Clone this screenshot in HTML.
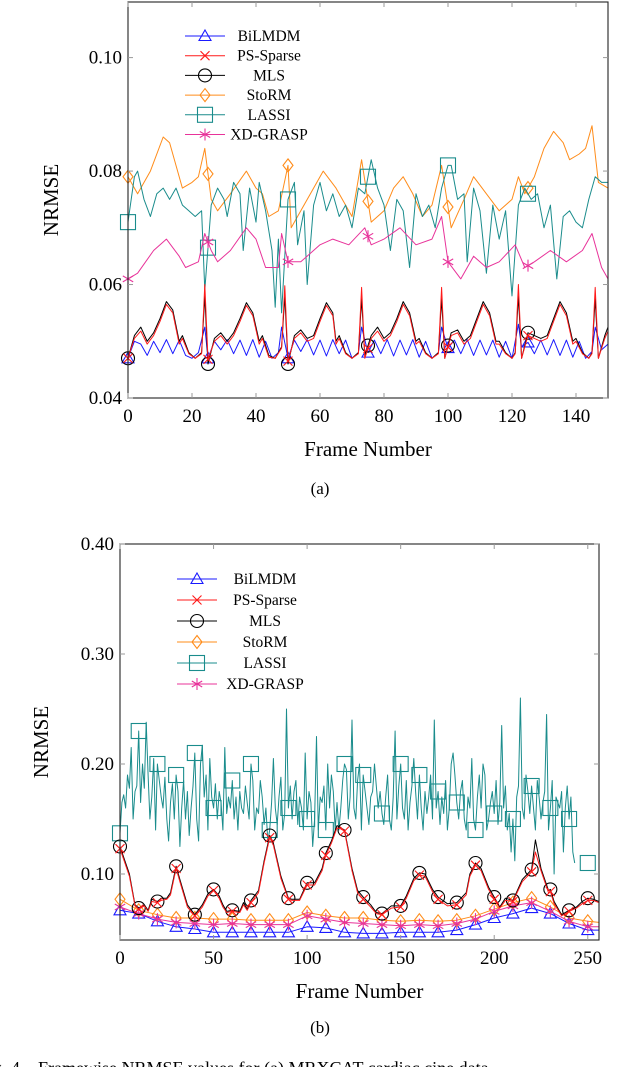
<!DOCTYPE html>
<html><head><meta charset="utf-8"><style>
html,body{margin:0;padding:0;background:#fff}
svg{display:block;font-family:"Liberation Serif",serif}
</style></head><body>
<svg id="fig" width="640" height="1067" viewBox="0 0 640 1067" xmlns="http://www.w3.org/2000/svg">
<g id="chartA"></g>
<g id="chartB"></g>
<text x="320" y="494" font-size="17" text-anchor="middle">(a)</text>
<text x="320" y="1033" font-size="17" text-anchor="middle">(b)</text>
<text x="-22" y="1074" font-size="18" xml:space="preserve">Fig. 4.   Framewise NRMSE values for (a) MRXCAT cardiac cine data</text>
</svg>
<script>
// ---------- Chart A data ----------
const aBilX=[0,2,4,6,8,10,12,14,16,18,20,22,24,25,27,29,31,33,35,37,39,41,43,45,47,48,50,52,54,56,58,60,62,64,66,68,70,72,73,75,77,79,81,83,85,87,89,91,93,95,97,98,100,102,104,106,108,110,112,114,116,118,120,122,123,125,127,129,131,133,135,137,139,141,143,145,146,148,150];
const aBilY=[.047,.0500,.0495,.0475,.0500,.0480,.0503,.0478,.0502,.0475,.0470,.0480,.0525,.0470,.0500,.0485,.0503,.0478,.0502,.0475,.0503,.0472,.0500,.0470,.0480,.0525,.0470,.0502,.0482,.0503,.0476,.0502,.0474,.0503,.0478,.0502,.0470,.0480,.0525,.0480,.0502,.0478,.0503,.0474,.0502,.0476,.0503,.0472,.0500,.0470,.0480,.0525,.0488,.0502,.0478,.0503,.0475,.0502,.0476,.0502,.0472,.0500,.0470,.0530,.0490,.0498,.0478,.0502,.0476,.0503,.0475,.0502,.0472,.0500,.0470,.0482,.0525,.0485,.0495];
const aMlsX=[0,2,4,6,8,10,12,14,16,17,19,21,23,24,25,27,29,31,33,35,37,39,41,42,44,46,48,49,50,52,54,56,58,60,62,64,65,66,68,70,72,73,74,76,78,80,82,84,86,88,90,91,93,95,97,98,99,101,103,105,107,109,111,113,115,116,118,120,121,122,123,125,127,129,131,133,135,137,139,140,142,144,145,146,147,149,150];
const aMlsY=[.047,.051,.0525,.050,.0515,.054,.057,.0555,.050,.051,.048,.047,.048,.058,.046,.0505,.0515,.050,.0515,.054,.0568,.055,.050,.051,.0475,.047,.049,.058,.046,.051,.052,.0505,.051,.054,.0568,.055,.050,.051,.048,.047,.048,.0575,.0475,.051,.0525,.0505,.0515,.054,.057,.055,.050,.0505,.048,.047,.048,.0575,.047,.0515,.052,.050,.051,.054,.057,.055,.050,.050,.048,.047,.048,.058,.047,.0515,.051,.0505,.051,.054,.057,.055,.050,.0505,.048,.047,.048,.0575,.047,.051,.0525];
const aPsY=[.047,.0505,.0518,.0495,.051,.0535,.0565,.055,.0495,.0505,.0478,.047,.0478,.0600,.0468,.050,.051,.0495,.051,.0535,.0563,.0545,.0495,.0505,.0472,.047,.0488,.0598,.0465,.0505,.0515,.050,.0505,.0535,.0563,.0545,.0495,.0505,.0478,.047,.0478,.0595,.047,.0505,.0518,.050,.051,.0535,.0565,.0545,.0495,.050,.0478,.047,.0478,.0595,.047,.051,.0515,.0495,.0505,.0535,.0565,.0545,.0495,.0495,.0478,.047,.0478,.0600,.047,.051,.0505,.050,.0505,.0535,.0565,.0545,.0495,.050,.0478,.047,.0478,.0595,.047,.0505,.0518];
const aStoX=[0,3,7,11,13,17,20,22,24,26,28,32,37,40,42,44,47,50,51,54,58,61,65,70,73,76,80,83,86,89,92,95,98,101,105,108,112,116,120,122,124,127,130,133,136,138,141,143,145,147,150];
const aStoY=[.079,.076,.080,.086,.085,.077,.078,.079,.084,.075,.073,.076,.080,.077,.076,.072,.073,.081,.070,.073,.077,.080,.077,.072,.082,.071,.073,.077,.079,.076,.072,.074,.081,.070,.075,.079,.076,.073,.075,.079,.076,.079,.084,.087,.085,.082,.083,.084,.088,.078,.077];
const aXdX=[0,3,8,12,16,18,22,24,26,28,32,37,40,43,47,48,50,54,60,64,69,74,76,80,85,90,95,98,100,104,108,112,116,121,124,127,132,137,142,145,148,150];
const aXdY=[.061,.062,.066,.068,.065,.063,.064,.069,.066,.064,.066,.070,.068,.063,.063,.069,.064,.064,.067,.068,.067,.070,.067,.068,.070,.067,.068,.072,.064,.061,.065,.063,.064,.067,.063,.064,.066,.064,.066,.069,.063,.061];
const aLasX=[0,2,3,5,7,9,11,13,15,17,19,21,23,24,26,28,30,31,33,35,36,38,40,41,43,45,46,47,48,50,52,53,55,56,58,60,62,64,66,68,70,72,74,75,76,78,80,82,84,86,88,90,92,94,96,98,100,101,103,105,106,108,110,112,114,116,118,120,122,124,126,128,130,132,134,136,138,140,142,144,146,148,150];
const aLasY=[.071,.079,.080,.075,.072,.076,.077,.075,.077,.074,.073,.072,.073,.059,.074,.077,.075,.072,.078,.076,.066,.077,.071,.078,.073,.066,.056,.068,.055,.075,.078,.067,.073,.060,.074,.078,.073,.076,.072,.074,.070,.077,.076,.079,.082,.077,.074,.066,.075,.073,.063,.076,.072,.074,.070,.077,.081,.081,.075,.076,.064,.077,.073,.062,.074,.068,.073,.058,.074,.077,.075,.076,.070,.074,.061,.072,.073,.071,.070,.075,.079,.078,.078];
const aMarkX=[0,25,50,75,100,125];
const aYTicks=[0.04,0.06,0.08,0.10];
const aYLabels=["0.04","0.06","0.08","0.10"];
const aXTicks=[0,20,40,60,80,100,120,140];

// ---------- Chart B data ----------
const bMlsX=[0,5,8,10,13,15,17,20,22,25,27,30,32,36,40,44,47,50,53,55,57,60,64,66,68,70,74,77,80,82,86,90,92,96,100,104,108,110,113,116,118,120,124,127,130,134,137,140,145,150,153,157,160,163,167,170,175,180,185,187,190,193,197,200,203,206,210,215,220,222,225,229,230,232,236,240,244,247,250,253,256];
const bMlsY=[.125,.100,.072,.069,.072,.067,.077,.075,.078,.078,.083,.107,.095,.072,.063,.072,.082,.086,.080,.072,.066,.067,.066,.074,.068,.076,.085,.112,.135,.128,.098,.078,.077,.077,.092,.092,.105,.119,.130,.144,.142,.140,.105,.085,.079,.072,.065,.064,.071,.071,.080,.096,.101,.100,.086,.079,.073,.074,.083,.100,.110,.105,.088,.079,.070,.078,.076,.095,.104,.131,.105,.085,.086,.075,.063,.067,.070,.075,.078,.077,.075];
const bPsY=[.123,.098,.071,.068,.071,.066,.075,.074,.076,.077,.081,.105,.093,.070,.062,.070,.080,.085,.078,.070,.065,.066,.065,.072,.067,.074,.083,.110,.133,.126,.096,.077,.076,.076,.090,.090,.103,.117,.128,.142,.141,.139,.103,.083,.077,.070,.064,.063,.069,.070,.078,.094,.099,.098,.084,.077,.071,.072,.081,.098,.108,.103,.086,.077,.069,.076,.075,.093,.102,.120,.103,.083,.084,.073,.062,.066,.069,.073,.076,.076,.074];
const bBilX=[0,10,20,30,40,50,60,70,80,90,100,110,120,130,140,150,160,170,180,190,200,210,220,230,240,250,256];
const bBilY=[.067,.064,.057,.052,.050,.047,.047,.047,.047,.047,.052,.051,.047,.046,.046,.047,.047,.047,.049,.054,.060,.064,.069,.064,.055,.049,.049];
const bStoY=[.077,.067,.063,.060,.060,.059,.059,.058,.058,.058,.065,.062,.060,.060,.058,.057,.058,.057,.058,.062,.068,.074,.078,.070,.060,.057,.056];
const bXdY=[.070,.064,.059,.056,.055,.054,.055,.054,.054,.054,.062,.059,.056,.055,.054,.053,.054,.053,.055,.059,.066,.071,.074,.066,.057,.052,.052];
const bLasY=[.137,.165,.172,.160,.190,.178,.215,.150,.175,.180,.230,.165,.200,.178,.238,.190,.150,.170,.205,.140,.200,.185,.170,.160,.188,.150,.130,.165,.182,.150,.190,.175,.125,.160,.185,.150,.175,.135,.160,.180,.210,.150,.130,.200,.217,.170,.190,.140,.205,.170,.160,.182,.150,.175,.165,.140,.215,.155,.170,.160,.185,.150,.170,.140,.175,.160,.155,.180,.165,.150,.200,.185,.140,.160,.155,.185,.170,.145,.160,.130,.140,.165,.205,.160,.145,.170,.188,.140,.155,.250,.160,.180,.150,.175,.185,.145,.170,.160,.140,.210,.150,.175,.165,.125,.150,.225,.140,.170,.165,.180,.140,.200,.160,.190,.175,.140,.165,.140,.160,.185,.200,.195,.150,.170,.240,.160,.150,.185,.200,.140,.190,.175,.160,.145,.170,.175,.200,.180,.160,.175,.155,.145,.170,.190,.150,.140,.170,.230,.150,.180,.200,.160,.150,.185,.140,.165,.180,.205,.175,.150,.190,.160,.140,.175,.155,.170,.190,.150,.240,.160,.175,.145,.170,.155,.185,.140,.160,.200,.210,.190,.165,.150,.175,.185,.150,.140,.170,.160,.205,.150,.140,.170,.190,.160,.200,.190,.140,.150,.165,.175,.155,.185,.145,.165,.235,.160,.180,.140,.155,.120,.150,.112,.170,.180,.260,.160,.150,.190,.175,.155,.180,.160,.140,.185,.170,.150,.165,.175,.245,.140,.160,.185,.100,.170,.165,.160,.175,.120,.160,.180,.150,.170,.120,.110];
const bMarkX=[0,10,20,30,40,50,60,70,80,90,100,110,120,130,140,150,160,170,180,190,200,210,220,230,240,250];
const bYTicks=[0.10,0.20,0.30,0.40];
const bYLabels=["0.10","0.20","0.30","0.40"];
const bXTicks=[0,50,100,150,200,250];

const NS="http://www.w3.org/2000/svg";
function mk(tag,attrs,parent){const e=document.createElementNS(NS,tag);for(const k in attrs)e.setAttribute(k,attrs[k]);parent.appendChild(e);return e;}
function interp(xs,ys,x){if(x<=xs[0])return ys[0];for(let i=1;i<xs.length;i++){if(x<=xs[i]){const t=(x-xs[i-1])/(xs[i]-xs[i-1]);return ys[i-1]+t*(ys[i]-ys[i-1]);}}return ys[ys.length-1];}
function marker(type,cx,cy,color,parent){
  let e;
  if(type==='tri'){e=mk('path',{d:`M${cx},${cy-6}L${cx+6},${cy+4.5}L${cx-6},${cy+4.5}Z`,fill:'none',stroke:color,'stroke-width':1.1},parent);}
  else if(type==='x'){e=mk('path',{d:`M${cx-4.5},${cy-4.5}L${cx+4.5},${cy+4.5}M${cx-4.5},${cy+4.5}L${cx+4.5},${cy-4.5}`,stroke:color,'stroke-width':1.1},parent);}
  else if(type==='o'){e=mk('circle',{cx:cx,cy:cy,r:6.5,fill:'none',stroke:color,'stroke-width':1.1},parent);}
  else if(type==='d'){e=mk('path',{d:`M${cx},${cy-6.5}L${cx+5},${cy}L${cx},${cy+6.5}L${cx-5},${cy}Z`,fill:'none',stroke:color,'stroke-width':1.1},parent);}
  else if(type==='s'){e=mk('rect',{x:cx-7.5,y:cy-7.5,width:15,height:15,fill:'none',stroke:color,'stroke-width':1.1},parent);}
  else {e=mk('path',{d:`M${cx},${cy-6}L${cx},${cy+6}M${cx-5.2},${cy-3}L${cx+5.2},${cy+3}M${cx-5.2},${cy+3}L${cx+5.2},${cy-3}`,stroke:color,'stroke-width':1.1},parent);}
  
  
}
function drawChart(g,cfg){
  const X=v=>cfg.L+(v-cfg.x0)/(cfg.x1-cfg.x0)*(cfg.R-cfg.L);
  const Y=v=>cfg.B-(v-cfg.y0)/(cfg.y1-cfg.y0)*(cfg.B-cfg.T);
  cfg.series.forEach(s=>{
    const sg=mk('g',{},g);
    
    
    const d=s.x.map((v,i)=>(i?'L':'M')+X(v).toFixed(1)+','+Y(s.y[i]).toFixed(1)).join('');
    const p=mk('path',{d:d,fill:'none',stroke:s.color,'stroke-width':1,'stroke-linejoin':'round'},sg);
    
    
    cfg.marks.forEach(m=>marker(s.m,X(m),Y(interp(s.x,s.y,m)),s.color,sg));
  });
  const fr=mk('rect',{x:cfg.L,y:cfg.T,width:cfg.R-cfg.L,height:cfg.B-cfg.T,fill:'none',stroke:'#222','stroke-width':1.1},g);
  
  
  cfg.yt.forEach((v,i)=>{
    mk('line',{x1:cfg.L,x2:cfg.L+5,y1:Y(v),y2:Y(v),stroke:'#999'},g);
    mk('line',{x1:cfg.R,x2:cfg.R-5,y1:Y(v),y2:Y(v),stroke:'#999'},g);
    const t=mk('text',{x:cfg.L-6,y:Y(v)+6,'font-size':19,'text-anchor':'end'},g);
    t.textContent=cfg.yl[i];
    
    
  });
  cfg.xt.forEach(v=>{
    mk('line',{x1:X(v),x2:X(v),y1:cfg.B,y2:cfg.B-5,stroke:'#999'},g);
    mk('line',{x1:X(v),x2:X(v),y1:cfg.T,y2:cfg.T+5,stroke:'#999'},g);
    const t=mk('text',{x:X(v),y:cfg.B+24,'font-size':19,'text-anchor':'middle'},g);
    t.textContent=String(v);
    
    
  });
  const xt=mk('text',{x:(cfg.L+cfg.R)/2,y:cfg.B+58,'font-size':21,'text-anchor':'middle'},g);
  xt.textContent='Frame Number';
  
  
  const yy=(cfg.T+cfg.B)/2;
  const yt=mk('text',{x:cfg.yx,y:yy,'font-size':21,'text-anchor':'middle',transform:`rotate(-90 ${cfg.yx} ${yy})`},g);
  yt.textContent='NRMSE';
  
  
  const lg=mk('g',{},g);
  
  
  cfg.series.slice().sort((a,b)=>a.order-b.order).forEach((s,i)=>{
    const y=cfg.legY+i*cfg.legDy;
    const eg=mk('g',{},lg);
    
    
    mk('line',{x1:cfg.legX,x2:cfg.legX+40,y1:y,y2:y,stroke:s.color,'stroke-width':1},eg);
    marker(s.m,cfg.legX+20,y,s.color,eg);
    const t=mk('text',{x:cfg.legTx,y:y+5,'font-size':15.5,'text-anchor':'middle'},eg);
    t.textContent=s.name;
  });
}
const A=document.getElementById('chartA');
drawChart(A,{L:128,R:608,T:2,B:398,x0:0,x1:150,y0:0.04,y1:0.1098,yt:aYTicks,yl:aYLabels,xt:aXTicks,yx:58,marks:aMarkX,legX:185,legTx:269,legY:36,legDy:19.7,
series:[
 {name:'StoRM',x:aStoX,y:aStoY,color:'#ff8c1a',m:'d',order:3},
 {name:'LASSI',x:aLasX,y:aLasY,color:'#1a8c8c',m:'s',order:4},
 {name:'XD-GRASP',x:aXdX,y:aXdY,color:'#e8339a',m:'star',order:5},
 {name:'BiLMDM',x:aBilX,y:aBilY,color:'#1a1aff',m:'tri',order:0},
 {name:'MLS',x:aMlsX,y:aMlsY,color:'#000',m:'o',order:2},
 {name:'PS-Sparse',x:aMlsX,y:aPsY,color:'#ff1a1a',m:'x',order:1}
]});
const bLasX=bLasY.map((v,i)=>i);
const B=document.getElementById('chartB');
drawChart(B,{L:120,R:599,T:544,B:940,x0:0,x1:256,y0:0.04,y1:0.40,yt:bYTicks,yl:bYLabels,xt:bXTicks,yx:48,marks:bMarkX,legX:177,legTx:265,legY:579,legDy:21,
series:[
 {name:'LASSI',x:bLasX,y:bLasY,color:'#1a8c8c',m:'s',order:4},
 {name:'BiLMDM',x:bBilX,y:bBilY,color:'#1a1aff',m:'tri',order:0},
 {name:'StoRM',x:bBilX,y:bStoY,color:'#ff8c1a',m:'d',order:3},
 {name:'XD-GRASP',x:bBilX,y:bXdY,color:'#e8339a',m:'star',order:5},
 {name:'MLS',x:bMlsX,y:bMlsY,color:'#000',m:'o',order:2},
 {name:'PS-Sparse',x:bMlsX,y:bPsY,color:'#ff1a1a',m:'x',order:1}
]});
</script>
</body></html>
